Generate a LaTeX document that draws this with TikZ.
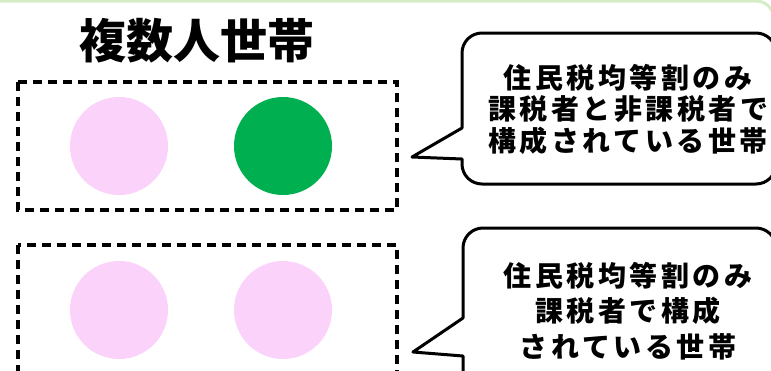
\documentclass[tikz,border=0pt]{standalone}
\usepackage{fontspec}
\usepackage{tikz}
\usetikzlibrary{positioning}
\newfontfamily\jpfont{Noto Sans CJK JP}
\newfontfamily\jpnote[LetterSpace=12.5]{Noto Sans CJK JP}
\definecolor{pinkdot}{HTML}{FAD2FA}
\definecolor{greendot}{HTML}{00B050}
\definecolor{framegreen}{HTML}{D5EDC6}
\tikzset{
  groupbox/.style={draw, line width=3.2pt, dash pattern=on 9pt off 6pt},
  bubble/.style={draw, line width=3pt, fill=white, line join=round},
  notetext/.style={font=\jpnote\bfseries\fontsize{28}{31.5}\selectfont, align=center, inner sep=0pt}
}

\begin{document}
\begin{tikzpicture}[x=1pt, y=-1pt]
    \useasboundingbox (0,0) rectangle (771,370);
    \clip (0,0) rectangle (771,370);

    % Draw frame edge
    \draw[framegreen, line width=3pt, rounded corners=18pt] (-5,1) -- (774,1) -- (774,60);

    % Title
    \node[font=\jpfont\bfseries\fontsize{47}{47}\selectfont, inner sep=0pt] (title) at (197,41) {複数人世帯};

    % Draw household boxes
    \draw[groupbox] (18,82) rectangle (397,210);
    \draw[groupbox] (18,245) rectangle (397,400);

    % Members
    \foreach \x/\y/\c in {119/146/pinkdot, 283/146/greendot, 119/310/pinkdot, 283/310/pinkdot} {
      \fill[\c] (\x,\y) circle (49);
    }

    % Draw speech bubbles
    \draw[bubble] (462,128) [rounded corners=20pt] -- (462,33) -- (776,33) -- (776,184) -- (462,184) [sharp corners] -- (462,159) -- (412,157) -- cycle;
    \draw[bubble] (463,318) [rounded corners=20pt] -- (463,228) -- (776,228) -- (776,400) -- (463,400) [sharp corners] -- (463,356) -- (413,352) -- cycle;

    % Bubble texts
    \node[notetext] (note1) at (628,109) {住民税均等割のみ\\課税者と非課税者で\\構成されている世帯};
    \node[notetext, font=\jpnote\bfseries\fontsize{28}{35.5}\selectfont] (note2) at (628,311) {住民税均等割のみ\\課税者で構成\\されている世帯};

\end{tikzpicture}
\end{document}
